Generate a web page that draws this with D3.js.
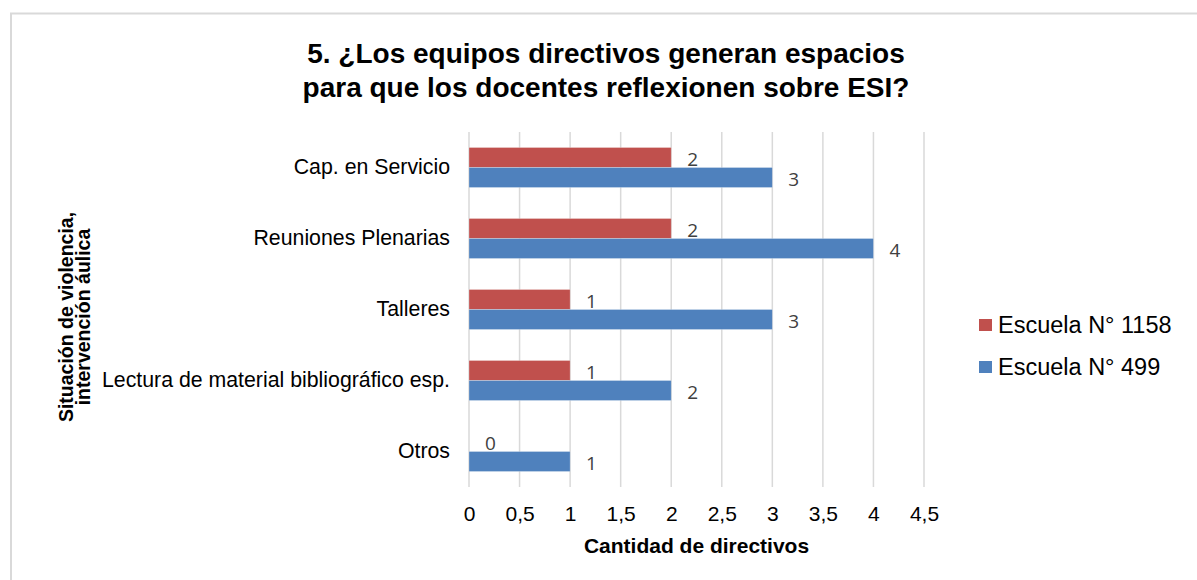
<!DOCTYPE html>
<html>
<head>
<meta charset="utf-8">
<script src="https://cdn.jsdelivr.net/npm/d3@7"></script>
<style>
  html, body { margin: 0; padding: 0; background: #fff; }
  svg { display: block; font-family: "Liberation Sans", Arial, sans-serif; }
</style>
</head>
<body>
<svg id="canvas"></svg>
<script>
const categories = ['Cap. en Servicio', 'Reuniones Plenarias', 'Talleres', 'Lectura de material bibliográfico esp.', 'Otros'];
const escuela1158 = [2, 2, 1, 1, 0];
const escuela499 = [3, 4, 3, 2, 1];
const seriesNames = ['Escuela N° 1158', 'Escuela N° 499'];
const seriesColors = ['#C0504D', '#4F81BD'];
const xTicks = [0, 0.5, 1, 1.5, 2, 2.5, 3, 3.5, 4, 4.5];

const width = 1197;
const height = 580;
const plot = { left: 469, right: 924, top: 132, bottom: 487 };

const svg = d3.select('#canvas').attr('width', width).attr('height', height);

// chart frame (runs off the right and bottom edge like the reference)
svg.append('rect')
  .attr('x', 11).attr('y', 13.5)
  .attr('width', 1200).attr('height', 600)
  .attr('fill', 'none')
  .attr('stroke', '#d9d9d9')
  .attr('stroke-width', 2);

const rows = categories.map((c, i) => ({
  cat: c,
  values: [escuela1158[i], escuela499[i]]
}));

const x = d3.scaleLinear().domain([0, 4.5]).range([plot.left, plot.right]);

const y = d3.scaleBand()
  .domain(categories)
  .range([plot.top, plot.bottom])
  .paddingInner(31 / 71)
  .paddingOuter(31 / 142);

const ySub = d3.scaleBand()
  .domain(d3.range(seriesNames.length))
  .range([0, y.bandwidth()]);

// vertical gridlines
svg.append('g')
  .selectAll('line')
  .data(xTicks)
  .join('line')
  .attr('x1', d => x(d)).attr('x2', d => x(d))
  .attr('y1', plot.top).attr('y2', plot.bottom)
  .attr('stroke', '#d9d9d9')
  .attr('stroke-width', 1.5);

// x axis labels
const fmt = d => String(d).replace('.', ',');
const xAxis = svg.append('g')
  .attr('transform', `translate(0,${plot.bottom})`)
  .call(d3.axisBottom(x).tickValues(xTicks).tickFormat(fmt).tickSize(0).tickPadding(19));
xAxis.select('.domain').remove();
xAxis.selectAll('text')
  .attr('font-family', '"Liberation Sans", Arial, sans-serif')
  .attr('font-size', 21)
  .attr('fill', '#000');

// y axis labels
const yAxis = svg.append('g')
  .attr('transform', `translate(${plot.left},0)`)
  .call(d3.axisLeft(y).tickSize(0).tickPadding(19));
yAxis.select('.domain').remove();
yAxis.selectAll('text')
  .attr('font-family', '"Liberation Sans", Arial, sans-serif')
  .attr('font-size', 21.3)
  .attr('fill', '#000');

// bars
const groups = svg.append('g')
  .selectAll('g')
  .data(rows)
  .join('g')
  .attr('transform', d => `translate(0,${y(d.cat)})`);

groups.selectAll('rect')
  .data(d => d.values.map((v, k) => ({ v, k })))
  .join('rect')
  .attr('x', x(0))
  .attr('y', d => ySub(d.k))
  .attr('width', d => x(d.v) - x(0))
  .attr('height', ySub.bandwidth())
  .attr('fill', d => seriesColors[d.k])
  .attr('stroke', d => d.v > 0 ? '#ffffff' : 'none')
  .attr('stroke-opacity', 0.35)
  .attr('stroke-width', 0.75);

groups.selectAll('text')
  .data(d => d.values.map((v, k) => ({ v, k })))
  .join('text')
  .attr('x', d => x(d.v) + 16)
  .attr('y', d => ySub(d.k) + ySub.bandwidth() / 2 + 8.5)
  .attr('font-family', '"Open Sans", "Noto Sans", sans-serif')
  .attr('font-size', 19)
  .attr('fill', '#404040')
  .text(d => d.v);

// title
const title = svg.append('text')
  .attr('x', 606)
  .attr('text-anchor', 'middle')
  .attr('font-size', 28)
  .attr('font-weight', 'bold')
  .attr('fill', '#000');
title.append('tspan').attr('x', 606).attr('y', 63).text('5. ¿Los equipos directivos generan espacios');
title.append('tspan').attr('x', 606).attr('y', 97).text('para que los docentes reflexionen sobre ESI?');

// x axis title
svg.append('text')
  .attr('x', (plot.left + plot.right) / 2)
  .attr('y', 553)
  .attr('text-anchor', 'middle')
  .attr('font-size', 21)
  .attr('font-weight', 'bold')
  .attr('fill', '#000')
  .text('Cantidad de directivos');

// y axis title (two lines, rotated)
const yTitle = svg.append('text')
  .attr('transform', 'translate(0,317) rotate(-90)')
  .attr('text-anchor', 'middle')
  .attr('font-size', 19.5)
  .attr('font-weight', 'bold')
  .attr('fill', '#000');
yTitle.append('tspan').attr('x', 0).attr('y', 73).text('Situación de violencia,');
yTitle.append('tspan').attr('x', 0).attr('y', 90).text('intervención áulica');

// legend
const legend = svg.append('g')
  .selectAll('g')
  .data(seriesNames)
  .join('g')
  .attr('transform', (d, i) => `translate(979,${319 + i * 42})`);

legend.append('rect')
  .attr('width', 13).attr('height', 12)
  .attr('fill', (d, i) => seriesColors[i]);

legend.append('text')
  .attr('x', 19)
  .attr('y', 13.5)
  .attr('font-size', 23.5)
  .attr('fill', '#000')
  .text(d => d);
</script>
</body>
</html>
